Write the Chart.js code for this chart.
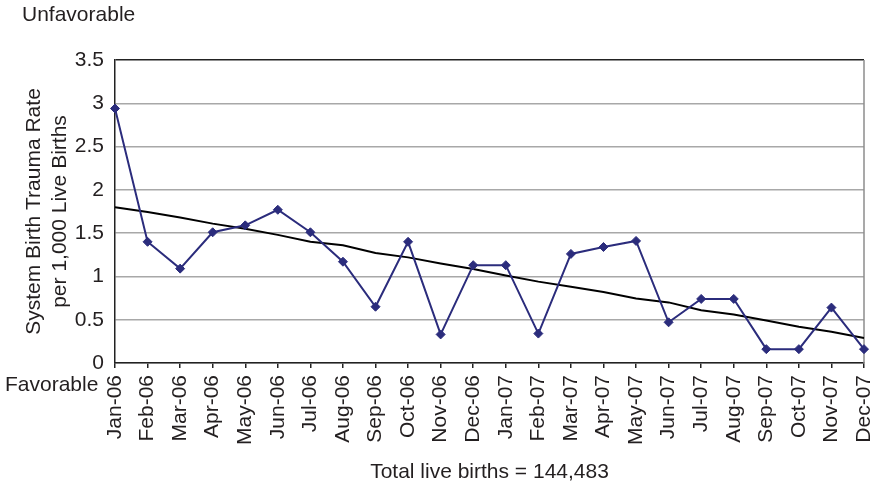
<!DOCTYPE html>
<html>
<head>
<meta charset="utf-8">
<script src="https://cdn.jsdelivr.net/npm/chart.js@4.4.1/dist/chart.umd.min.js"></script>
<style>
  html, body { margin: 0; padding: 0; background: #ffffff; }
  #wrap { width: 875px; height: 487px; }
</style>
</head>
<body>
<div id="wrap"><canvas id="c" width="875" height="487"></canvas></div>
<script>
const months = ["Jan-06","Feb-06","Mar-06","Apr-06","May-06","Jun-06","Jul-06","Aug-06","Sep-06","Oct-06","Nov-06","Dec-06",
                "Jan-07","Feb-07","Mar-07","Apr-07","May-07","Jun-07","Jul-07","Aug-07","Sep-07","Oct-07","Nov-07","Dec-07"];
const traumaRate = [2.94, 1.40, 1.09, 1.51, 1.59, 1.77, 1.51, 1.17, 0.65, 1.40, 0.33, 1.13,
                    1.13, 0.34, 1.26, 1.34, 1.41, 0.47, 0.74, 0.74, 0.16, 0.16, 0.64, 0.16];
const trendLine = [1.80, 1.745, 1.68, 1.61, 1.55, 1.48, 1.40, 1.36, 1.27, 1.22, 1.15, 1.085,
                   1.01, 0.94, 0.88, 0.82, 0.745, 0.70, 0.61, 0.56, 0.49, 0.42, 0.36, 0.29];
const yMin = 0, yMax = 3.5, yStep = 0.5;
const yTitle = ["System Birth Trauma Rate", "per 1,000 Live Births"];
const xTitle = "Total live births = 144,483";
const topNote = "Unfavorable";
const bottomNote = "Favorable";

const FONT = "'Liberation Sans', Arial, Helvetica, sans-serif";
const TXT = "#231f20";

const notesPlugin = {
  id: 'notes',
  beforeDatasetsDraw(chart) {
    const {ctx, chartArea} = chart;
    ctx.save();
    ctx.strokeStyle = '#8c8c8c';
    ctx.lineWidth = 1.5;
    ctx.beginPath();
    ctx.moveTo(chartArea.right, chartArea.top);
    ctx.lineTo(chartArea.right, chartArea.bottom);
    ctx.stroke();
    ctx.restore();
  },
  afterDraw(chart) {
    const {ctx} = chart;
    ctx.save();
    ctx.fillStyle = TXT;
    ctx.font = "21px " + FONT;
    ctx.textBaseline = 'middle';
    ctx.textAlign = 'left';
    ctx.fillText(topNote, 22, 15);
    ctx.fillText(bottomNote, 5, 385);
    ctx.restore();
  }
};

new Chart(document.getElementById('c'), {
  type: 'line',
  data: {
    labels: months,
    datasets: [
      {
        label: 'Trend',
        data: trendLine,
        borderColor: '#000000',
        borderWidth: 2,
        pointRadius: 0,
        tension: 0,
        order: 2
      },
      {
        label: 'System Birth Trauma Rate',
        data: traumaRate,
        borderColor: '#2b2c7c',
        backgroundColor: '#2b2c7c',
        borderWidth: 2,
        pointStyle: 'rectRot',
        pointRadius: 4.5,
        pointBorderWidth: 1,
        tension: 0,
        order: 1
      }
    ]
  },
  options: {
    responsive: false,
    animation: false,
    devicePixelRatio: 1,
    layout: { padding: { top: 60, right: 11, left: 0, bottom: 0 } },
    plugins: { legend: { display: false }, tooltip: { enabled: false } },
    scales: {
      x: {
        offset: false,
        afterFit(scale) { scale.height = 124; scale.paddingLeft = 0; scale.paddingRight = 0; },
        grid: { drawOnChartArea: false, drawTicks: true, tickLength: 5, color: '#222222', lineWidth: 1.5 },
        border: { display: true, color: '#222222', width: 1.5 },
        ticks: {
          autoSkip: false, minRotation: 90, maxRotation: 90, padding: 7,
          color: TXT, font: { family: FONT, size: 21 }
        },
        title: {
          display: true, text: xTitle, color: TXT,
          font: { family: FONT, size: 21, lineHeight: '25px' },
          padding: { top: 0, bottom: 2 }
        }
      },
      y: {
        min: yMin, max: yMax,
        afterFit(scale) { scale.width = 115; scale.paddingTop = 0; scale.paddingBottom = 0; },
        grid: {
          drawTicks: false,
          color: (c) => (c.tick && c.tick.value === yMax) ? '#222222' : '#a8a8a8',
          lineWidth: 1.5
        },
        border: { display: true, color: '#222222', width: 1.5 },
        ticks: {
          stepSize: yStep, padding: 11, color: TXT,
          font: { family: FONT, size: 21 },
          callback: (v) => String(Math.round(v * 10) / 10)
        },
        title: {
          display: true, text: yTitle, color: TXT,
          font: { family: FONT, size: 21, lineHeight: '26px' },
          padding: { top: 21, bottom: 0 }
        }
      }
    }
  },
  plugins: [notesPlugin]
});
</script>
</body>
</html>
